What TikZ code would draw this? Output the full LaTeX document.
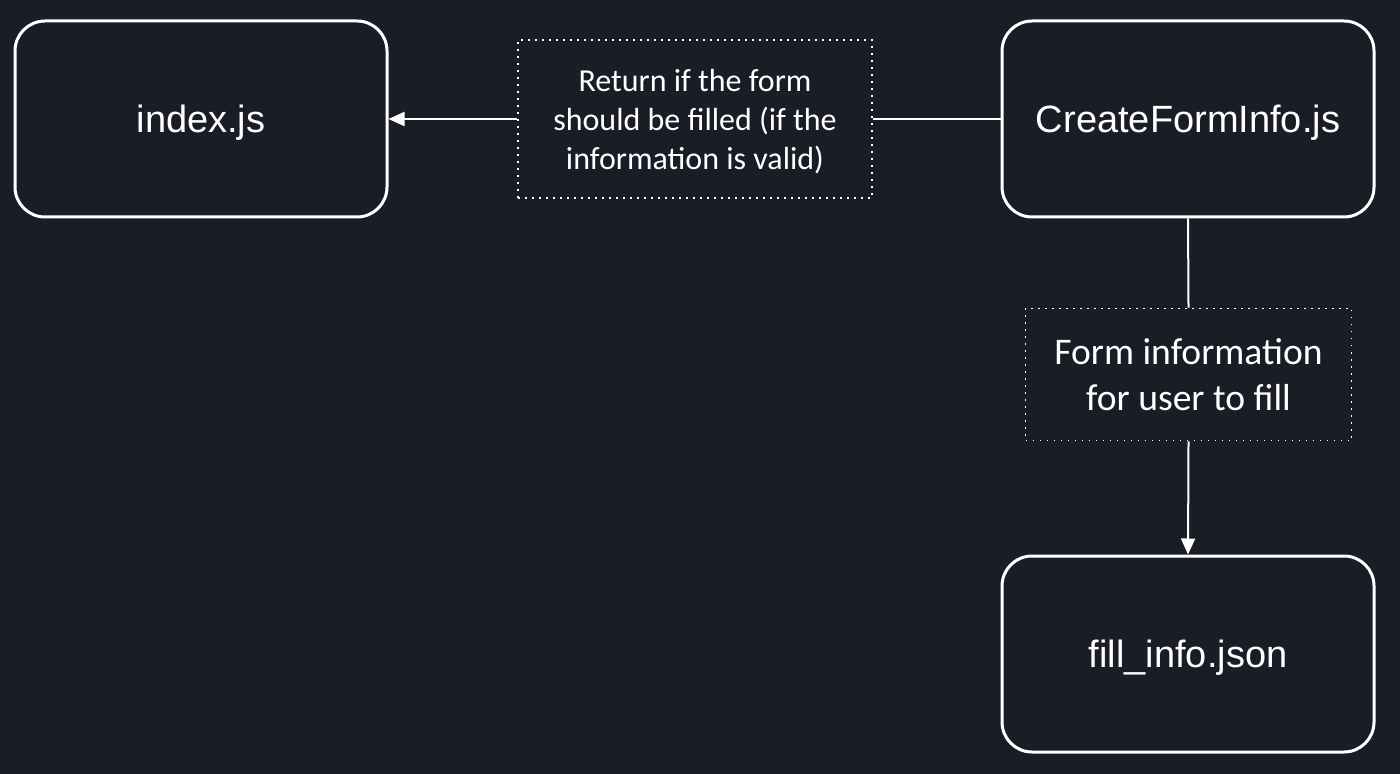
\documentclass[tikz,border=0pt]{standalone}
\usepackage{fontspec}
\setmainfont{Liberation Sans}
\newfontfamily\labelfont{Carlito}
\usetikzlibrary{arrows.meta}
\definecolor{bg}{HTML}{1A1D25}
\begin{document}
\begin{tikzpicture}[x=0.5pt,y=-0.5pt,
  filebox/.style={draw=white,line width=1.5pt,rounded corners=15pt,minimum width=186pt,minimum height=98pt,text=white,font=\fontsize{19pt}{23pt}\selectfont,inner sep=0pt,text height=14pt,text depth=0.5pt},
  lbl/.style={draw=white,line width=0.9pt,dash pattern=on 0.9pt off 2.6pt,text=white,align=center,inner sep=0pt,fill=bg},
  lbltext/.style={text=white,align=center,inner sep=0pt},
  conn/.style={draw=white,line width=1pt},
  tip/.style={-{Triangle[length=8pt,width=7pt]}}]
\fill[bg] (0,0) rectangle (1400,774);
\useasboundingbox (0,0) rectangle (1400,774);
\node[filebox] (index) at (201,119) {index.js};
\node[filebox] (create) at (1188,119) {CreateFormInfo.js};
\node[filebox] (fill) at (1188,654) {fill\_info.json};
\node[lbl,minimum width=177pt,minimum height=79pt] (ret) at (695,119) {};
\node[lbltext,font=\labelfont\fontsize{16pt}{19.5pt}\selectfont] (rettext) at (695,122) {Return if the form\\should be filled (if the\\information is valid)};
\node[lbl,minimum width=163pt,minimum height=66pt,font=\labelfont\fontsize{18.8pt}{23pt}\selectfont] (form) at (1188.5,374.5) {Form information\\for user to fill};
\draw[conn] (create.west) -- (ret.east);
\draw[conn,tip] (ret.west) -- (index.east);
\draw[conn] (create.south) -- (form.north);
\draw[conn,tip] (form.south) -- (fill.north);
\end{tikzpicture}
\end{document}
